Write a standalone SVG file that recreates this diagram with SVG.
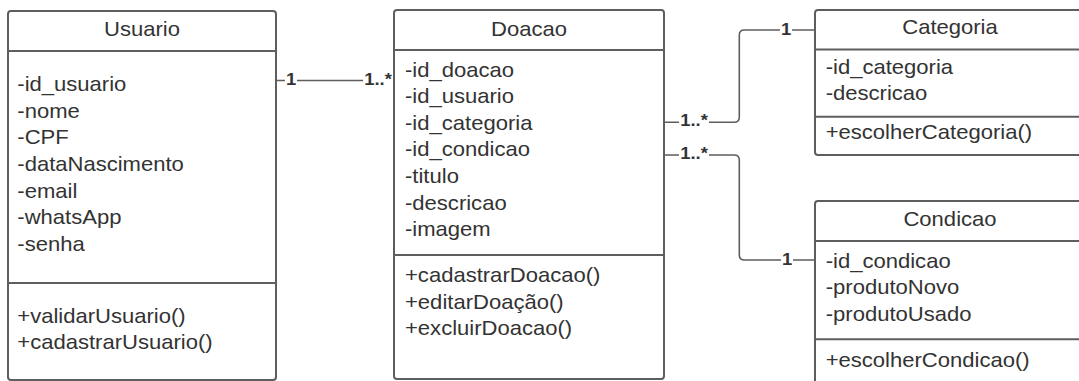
<svg xmlns="http://www.w3.org/2000/svg" width="1079" height="381" viewBox="0 0 1079 381">
<style>
.box{fill:#ffffff;stroke:#5e5e5e;stroke-width:2}
.sep{stroke:#5e5e5e;stroke-width:2;fill:none}
.t{font-family:"Liberation Sans",Arial,sans-serif;font-size:21px;fill:#333333}
.title{text-anchor:middle}
.conn{fill:none;stroke:#5e5e5e;stroke-width:1.6}
.bg{fill:#ffffff}
.lbl{font-family:"Liberation Sans",Arial,sans-serif;font-size:16px;font-weight:bold;fill:#333333;text-anchor:middle}
</style>
<rect width="1079" height="381" fill="#ffffff"/>
<g id="connectors">
<path class="conn" d="M277 80.5 H394"/>
<path class="conn" d="M664 122.3 H734 Q739.3 122.3 739.3 117 V35 Q739.3 30 744.5 30 H815"/>
<path class="conn" d="M664 155 H734 Q739.3 155 739.3 160 V255 Q739.3 260 744.5 260 H815"/>
<rect class="bg" x="285" y="72" width="12" height="13"/>
<rect class="bg" x="363" y="72" width="30" height="13"/>
<rect class="bg" x="679" y="114" width="30" height="13"/>
<rect class="bg" x="780" y="22" width="12" height="13"/>
<rect class="bg" x="679" y="147" width="30" height="13"/>
<rect class="bg" x="781" y="252" width="12" height="13"/>
<text class="lbl" transform="translate(291 84.5) scale(1.15 1)">1</text>
<text class="lbl" transform="translate(378 84.5) scale(1.15 1)">1..*</text>
<text class="lbl" transform="translate(694 126) scale(1.15 1)">1..*</text>
<text class="lbl" transform="translate(786 34.5) scale(1.15 1)">1</text>
<text class="lbl" transform="translate(694 159) scale(1.15 1)">1..*</text>
<text class="lbl" transform="translate(787 264.5) scale(1.15 1)">1</text>
</g>
<g id="usuario">
<rect class="box" x="8" y="11" width="268" height="369" rx="3"/>
<line class="sep" x1="8" y1="51" x2="276" y2="51"/>
<line class="sep" x1="8" y1="283" x2="276" y2="283"/>
<text class="t title" transform="translate(142 35.5) scale(1.05 1)">Usuario</text>
<text class="t" transform="translate(17.3 91) scale(1.05 1)"><tspan x="0" y="0">-id_usuario</tspan><tspan x="0" y="26.67">-nome</tspan><tspan x="0" y="53.33">-CPF</tspan><tspan x="0" y="80">-dataNascimento</tspan><tspan x="0" y="106.67">-email</tspan><tspan x="0" y="133.33">-whatsApp</tspan><tspan x="0" y="160">-senha</tspan></text>
<text class="t" transform="translate(17.3 322.7) scale(1.05 1)"><tspan x="0" y="0">+validarUsuario()</tspan><tspan x="0" y="26.67">+cadastrarUsuario()</tspan></text>
</g>
<g id="doacao">
<rect class="box" x="394" y="10" width="270" height="369" rx="3"/>
<line class="sep" x1="394" y1="50" x2="664" y2="50"/>
<line class="sep" x1="394" y1="255" x2="664" y2="255"/>
<text class="t title" transform="translate(529 35.5) scale(1.05 1)">Doacao</text>
<text class="t" transform="translate(405 76.5) scale(1.05 1)"><tspan x="0" y="0">-id_doacao</tspan><tspan x="0" y="26.67">-id_usuario</tspan><tspan x="0" y="53.33">-id_categoria</tspan><tspan x="0" y="80">-id_condicao</tspan><tspan x="0" y="106.67">-titulo</tspan><tspan x="0" y="133.33">-descricao</tspan><tspan x="0" y="160">-imagem</tspan></text>
<text class="t" transform="translate(405 282) scale(1.05 1)"><tspan x="0" y="0">+cadastrarDoacao()</tspan><tspan x="0" y="26.67">+editarDoação()</tspan><tspan x="0" y="53.33">+excluirDoacao()</tspan></text>
</g>
<g id="categoria">
<rect class="box" x="815" y="10" width="270" height="145" rx="3"/>
<line class="sep" x1="815" y1="49.5" x2="1085" y2="49.5"/>
<line class="sep" x1="815" y1="116.7" x2="1085" y2="116.7"/>
<text class="t title" transform="translate(950 34) scale(1.05 1)">Categoria</text>
<text class="t" transform="translate(825.7 73.5) scale(1.05 1)"><tspan x="0" y="0">-id_categoria</tspan><tspan x="0" y="26.67">-descricao</tspan></text>
<text class="t" transform="translate(825.7 138.5) scale(1.05 1)">+escolherCategoria()</text>
</g>
<g id="condicao">
<rect class="box" x="815" y="201" width="270" height="200" rx="3"/>
<line class="sep" x1="815" y1="241" x2="1085" y2="241"/>
<line class="sep" x1="815" y1="339.3" x2="1085" y2="339.3"/>
<text class="t title" transform="translate(950 225.5) scale(1.05 1)">Condicao</text>
<text class="t" transform="translate(825.7 267.5) scale(1.05 1)"><tspan x="0" y="0">-id_condicao</tspan><tspan x="0" y="26.67">-produtoNovo</tspan><tspan x="0" y="53.33">-produtoUsado</tspan></text>
<text class="t" transform="translate(825.7 367) scale(1.05 1)">+escolherCondicao()</text>
</g>
</svg>
